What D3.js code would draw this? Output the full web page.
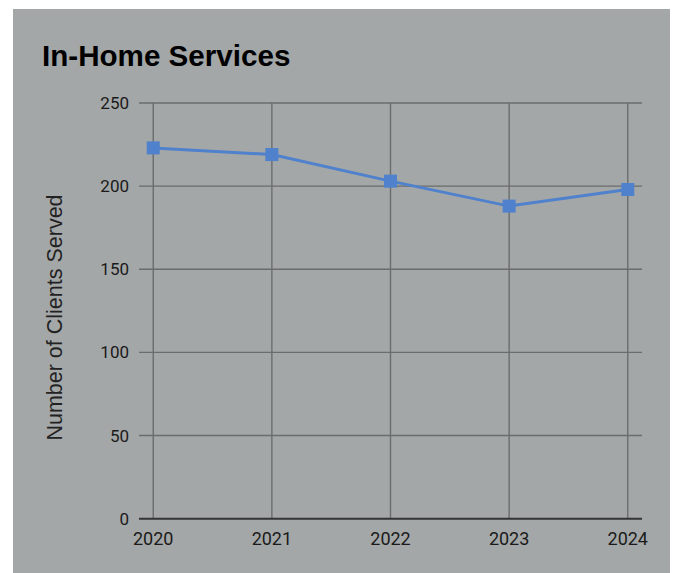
<!DOCTYPE html>
<html>
<head>
<meta charset="utf-8">
<script src="https://cdn.jsdelivr.net/npm/d3@7"></script>
<style>
  body { margin: 0; background: #ffffff; }
  svg { display: block; }
</style>
</head>
<body>
<div id="chart"></div>
<script>
// Chart data
const years = ["2020", "2021", "2022", "2023", "2024"];
const clients = [223, 219, 203, 188, 198];
const yTicks = [0, 50, 100, 150, 200, 250];
const title = "In-Home Services";
const yTitle = "Number of Clients Served";

const W = 678, H = 573;
const plot = {left: 139, right: 642, top: 103, bottom: 518.7};

const svg = d3.select("#chart")
    .append("svg")
    .attr("width", W)
    .attr("height", H);

// Gray panel
svg.append("rect")
    .attr("x", 13)
    .attr("y", 9)
    .attr("width", 657)
    .attr("height", 564)
    .attr("fill", "#a4a7a7");

// Scales
const x = d3.scalePoint()
    .domain(years)
    .range([plot.left, plot.right])
    .padding(0.12);

const y = d3.scaleLinear()
    .domain([0, 250])
    .range([plot.bottom, plot.top]);

// Horizontal gridlines
svg.append("g")
    .selectAll("line")
    .data(yTicks.filter(d => d > 0))
    .join("line")
    .attr("x1", plot.left)
    .attr("x2", plot.right)
    .attr("y1", d => y(d))
    .attr("y2", d => y(d))
    .attr("stroke", "#6a6d6d")
    .attr("stroke-width", 1.4);

// Vertical gridlines
svg.append("g")
    .selectAll("line")
    .data(years)
    .join("line")
    .attr("x1", d => x(d))
    .attr("x2", d => x(d))
    .attr("y1", plot.top)
    .attr("y2", plot.bottom)
    .attr("stroke", "#6a6d6d")
    .attr("stroke-width", 1.4);

// Baseline
svg.append("line")
    .attr("x1", plot.left)
    .attr("x2", plot.right)
    .attr("y1", y(0))
    .attr("y2", y(0))
    .attr("stroke", "#333535")
    .attr("stroke-width", 2);

// Y tick labels
svg.append("g")
    .selectAll("text")
    .data(yTicks)
    .join("text")
    .attr("x", 129)
    .attr("y", d => y(d))
    .attr("dy", "0.35em")
    .attr("text-anchor", "end")
    .attr("font-family", "Roboto, sans-serif")
    .attr("font-size", 17)
    .attr("fill", "#1a1a1a")
    .text(d => d);

// X tick labels
svg.append("g")
    .selectAll("text")
    .data(years)
    .join("text")
    .attr("x", d => x(d))
    .attr("y", 545)
    .attr("text-anchor", "middle")
    .attr("font-family", "Roboto, sans-serif")
    .attr("font-size", 18)
    .attr("fill", "#1a1a1a")
    .text(d => d);

// Line
const line = d3.line()
    .x((d, i) => x(years[i]))
    .y(d => y(d));

svg.append("path")
    .datum(clients)
    .attr("d", line)
    .attr("fill", "none")
    .attr("stroke", "#4f81cc")
    .attr("stroke-width", 3);

// Square markers
svg.append("g")
    .selectAll("rect")
    .data(clients)
    .join("rect")
    .attr("x", (d, i) => x(years[i]) - 6.5)
    .attr("y", d => y(d) - 6.5)
    .attr("width", 13)
    .attr("height", 13)
    .attr("fill", "#4f81cc");

// Title
svg.append("text")
    .attr("x", 42)
    .attr("y", 66)
    .attr("font-family", "Arial, 'Liberation Sans', sans-serif")
    .attr("font-weight", "bold")
    .attr("font-size", 29.6)
    .attr("fill", "#000")
    .text(title);

// Y axis title
svg.append("text")
    .attr("transform", "translate(61.5,317.5) rotate(-90)")
    .attr("text-anchor", "middle")
    .attr("font-family", "Arial, 'Liberation Sans', sans-serif")
    .attr("font-size", 21.5)
    .attr("fill", "#222")
    .text(yTitle);
</script>
</body>
</html>
